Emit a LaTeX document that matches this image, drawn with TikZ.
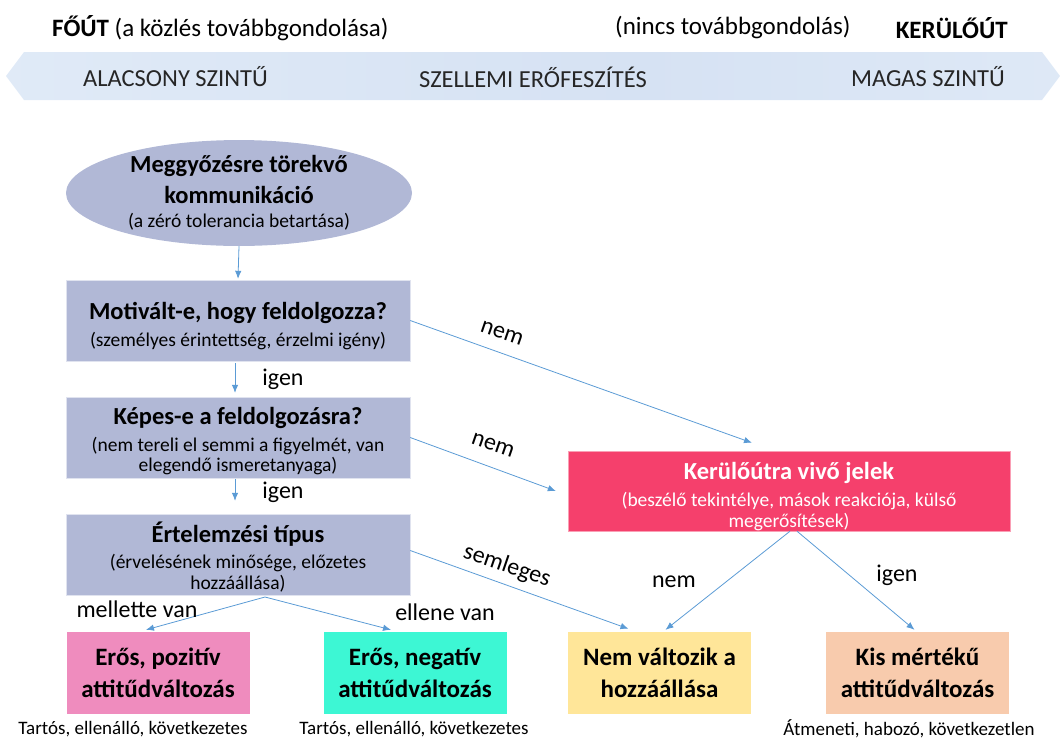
\documentclass[tikz,border=0pt]{standalone}
\usepackage{fontspec}
\setmainfont{Carlito}
\usetikzlibrary{shapes.geometric,arrows.meta,calc}
\definecolor{lav}{HTML}{B1B8D6}
\definecolor{redbox}{HTML}{F5406C}
\definecolor{pinkbox}{HTML}{EF8CBE}
\definecolor{cyanbox}{HTML}{3DF7D4}
\definecolor{yelbox}{HTML}{FFE699}
\definecolor{peachbox}{HTML}{F8CBAD}
\definecolor{lineblue}{HTML}{5B9BD5}
\definecolor{bandblue}{HTML}{9DC3E6}
\definecolor{bandlight}{HTML}{E2ECF8}
\definecolor{bandmid}{HTML}{D6E2F3}
\pgfdeclarehorizontalshading{band}{100bp}{color(0bp)=(bandblue); color(18bp)=(bandlight); color(55bp)=(bandmid); color(85bp)=(bandlight); color(100bp)=(bandblue)}
\newcommand{\ttl}{\fontsize{24.5}{20}\selectfont\bfseries}
\newcommand{\sub}{\fontsize{19.5}{20}\selectfont\mdseries}
\newcommand{\tstrut}[1]{\rule{0pt}{#1pt}}
\tikzset{
  multi/.style={align=center, inner sep=0pt, font={\fontsize{19.5}{20.5}\selectfont\lineskiplimit=-30pt}},
  qbox/.style={multi, rectangle, fill=lav, draw=white!60!lav, minimum width=344pt, minimum height=81pt},
  resbox/.style={rectangle, minimum width=183pt, minimum height=82pt, align=center, inner sep=0pt, font={\fontsize{25}{32}\selectfont\bfseries\lineskiplimit=-30pt}},
  conn/.style={draw=lineblue, line width=0.8pt, -{Latex[length=8pt,width=6.5pt]}},
  lbl/.style={font=\fontsize{24}{28}\selectfont, inner sep=0pt},
  captxt/.style={font=\fontsize{19}{22}\selectfont, inner sep=0pt},
  hdr/.style={font=\fontsize{25}{29}\selectfont, inner sep=0pt},
  bandtxt/.style={font=\fontsize{24.5}{28}\selectfont, text=black!85, inner sep=0pt}
}
\begin{document}
\begin{tikzpicture}[x=1pt,y=-1pt]
\useasboundingbox (0,0) rectangle (1060,740);
% header
\node[hdr, anchor=west] (h1) at (52,28) {\textbf{FŐÚT} (a közlés továbbgondolása)};
\node[hdr, anchor=west] (h2) at (615,28) {(nincs továbbgondolás)};
\node[hdr, anchor=east] (h3) at (1008,28) {\textbf{KERÜLŐÚT}};
% band
\shade[shading=band] (6,76) -- (24,52) -- (1042,52) -- (1060,76) -- (1042,100) -- (24,100) -- cycle;
\node[bandtxt, anchor=west] (b1t) at (83,77) {ALACSONY SZINTŰ};
\node[bandtxt] (b2t) at (533,77) {SZELLEMI ERŐFESZÍTÉS};
\node[bandtxt, anchor=east] (b3t) at (1005,77) {MAGAS SZINTŰ};
% ellipse
\node[multi, ellipse, fill=lav, minimum width=346pt, minimum height=104pt] (ell) at (239,193)
  {\ttl Meggyőzésre törekvő\\[10.5pt]\ttl kommunikáció\\[3.5pt]\sub (a zéró tolerancia betartása)};
% question boxes
\node[qbox] (q1) at (238,320.5) {\ttl\tstrut{28}Motivált-e, hogy feldolgozza?\\[6pt]\sub (személyes érintettség, érzelmi igény)};
\node[qbox] (q2) at (238,437.5) {\ttl\tstrut{25}Képes-e a feldolgozásra?\\[6pt]\sub (nem tereli el semmi a figyelmét, van\\\sub elegendő ismeretanyaga)};
\node[qbox] (q3) at (238,554.5) {\ttl\tstrut{25}Értelemzési típus\\[6pt]\sub (érvelésének minősége, előzetes\\\sub hozzáállása)};
% red box
\node[multi, rectangle, fill=redbox, draw=redbox!50!white, minimum width=442pt, minimum height=80pt, text=white] (red) at (789,491)
  {\ttl\tstrut{28}Kerülőútra vivő jelek\\[6.5pt]\sub (beszélő tekintélye, mások reakciója, külső\\\sub megerősítések)};
% result boxes
\node[resbox, fill=pinkbox] (pink) at (158,673) {Erős, pozitív\\attitűdváltozás};
\node[resbox, fill=cyanbox] (cyan) at (415,673) {Erős, negatív\\attitűdváltozás};
\node[resbox, fill=yelbox] (yel) at (659.5,673) {Nem változik a\\hozzáállása};
\node[resbox, fill=peachbox] (peach) at (917.5,673) {Kis mértékű\\attitűdváltozás};
% captions
\node[captxt] (c1) at (133,729) {Tartós, ellenálló, következetes};
\node[captxt] (c2) at (414,729) {Tartós, ellenálló, következetes};
\node[captxt] (c3) at (909,729) {Átmeneti, habozó, következetlen};
% connectors
\draw[conn] (ell.south) -- ($(q1.north)+(0,-1)$);
\draw[conn] ($(q1.south)+(-3,2)$) -- ($(q2.north)+(-3,-4)$);
\draw[conn] ($(q2.south)+(-3,1)$) -- ($(q3.north)+(-3,-13)$);
\node[lbl] (ig1) at (283,379) {igen};
\node[lbl] (ig2) at (283,492) {igen};
\draw[conn] (q1.east) -- ($(red.north)+(-37,-8)$);
\node[lbl, rotate=-19] (n1) at (502,333) {nem};
\draw[conn] (q2.east) -- ($(red.west)+(-12,0)$);
\node[lbl, rotate=-19] (n2) at (493,445) {nem};
\draw[conn] ($(q3.east)+(0,-4)$) -- ($(yel.north)+(-31,-3)$);
\node[lbl, rotate=-19] (sem) at (507,566) {semleges};
\draw[conn] ($(red.south)+(1,0)$) -- ($(yel.north)+(6,-2)$);
\node[lbl] (n3) at (674,582) {nem};
\draw[conn] ($(red.south)+(8,0)$) -- ($(peach.north)+(-3,-2)$);
\node[lbl] (ig3) at (897,575) {igen};
\coordinate (q3s) at (265,597);
\draw[conn] (q3s) -- ($(pink.north)+(-12,-2)$);
\draw[conn] (q3s) -- ($(cyan.north)+(-24,-2)$);
\node[lbl] (mv) at (137,609) {mellette van};
\node[lbl] (ev) at (445,612) {ellene van};
\end{tikzpicture}
\end{document}
